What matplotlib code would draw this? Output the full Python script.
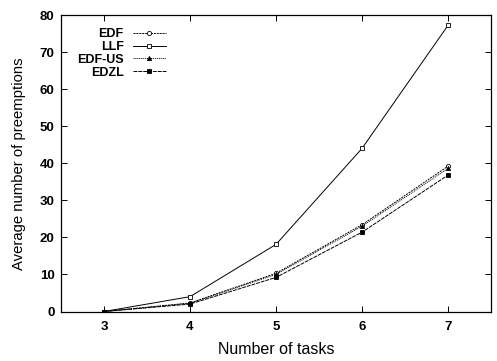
import matplotlib
matplotlib.use("Agg")
import matplotlib.pyplot as plt

tasks = [3, 4, 5, 6, 7]
edf = [0.0, 2.3, 10.3, 23.4, 39.2]
llf = [0.0, 4.0, 18.1, 44.0, 77.2]
edf_us = [0.0, 2.2, 10.0, 23.0, 38.6]
edzl = [0.0, 2.0, 9.2, 21.4, 36.8]

plt.rcParams['font.family'] = ['Liberation Sans', 'DejaVu Sans']

fig = plt.figure(figsize=(4.97, 3.61), dpi=100)
ax = fig.add_axes([61 / 497, 1 - 311.5 / 361, (491 - 61) / 497, (311.5 - 15) / 361])

ax.plot(tasks, edf, color='black', lw=0.7, ls=(0, (2, 1)), marker='o', ms=3,
        mfc='white', mec='black', mew=0.6, label='EDF')
ax.plot(tasks, llf, color='black', lw=0.7, ls='-', marker='s', ms=3.5,
        mfc='white', mec='black', mew=0.6, label='LLF')
ax.plot(tasks, edf_us, color='black', lw=0.7, ls=(0, (1, 1)), marker='^', ms=3,
        mfc='black', mec='black', mew=0.6, label='EDF-US')
ax.plot(tasks, edzl, color='black', lw=0.7, ls=(0, (4, 1)), marker='s', ms=3,
        mfc='black', mec='black', mew=0.6, label='EDZL')

ax.set_xlim(2.5, 7.5)
ax.set_ylim(0, 80)
ax.set_xticks(tasks)
ax.set_yticks(range(0, 81, 10))
ax.tick_params(axis='x', direction='in', top=True, length=4, width=0.7, pad=7)
ax.tick_params(axis='y', direction='in', right=True, length=4, width=0.7, pad=4.5)
for lab in ax.get_xticklabels() + ax.get_yticklabels():
    lab.set_fontweight('bold')
    lab.set_fontsize(9.5)
for s in ax.spines.values():
    s.set_linewidth(0.9)

ax.set_xlabel('Number of tasks', fontsize=11.5, labelpad=6)
ax.set_ylabel('Average number of preemptions', fontsize=10.7, labelpad=10)

leg = ax.legend(loc='upper left', bbox_to_anchor=(77 / 497, 1 - 28 / 361),
                bbox_transform=fig.transFigure, frameon=False,
                markerfirst=False, handlelength=2.6, handletextpad=0.75,
                labelspacing=0.07, borderaxespad=0.0, borderpad=0.0,
                prop={'weight': 'bold', 'size': 9})
for t in leg.get_texts():
    t.set_ha('right')

fig.savefig('out.png', dpi=100)
